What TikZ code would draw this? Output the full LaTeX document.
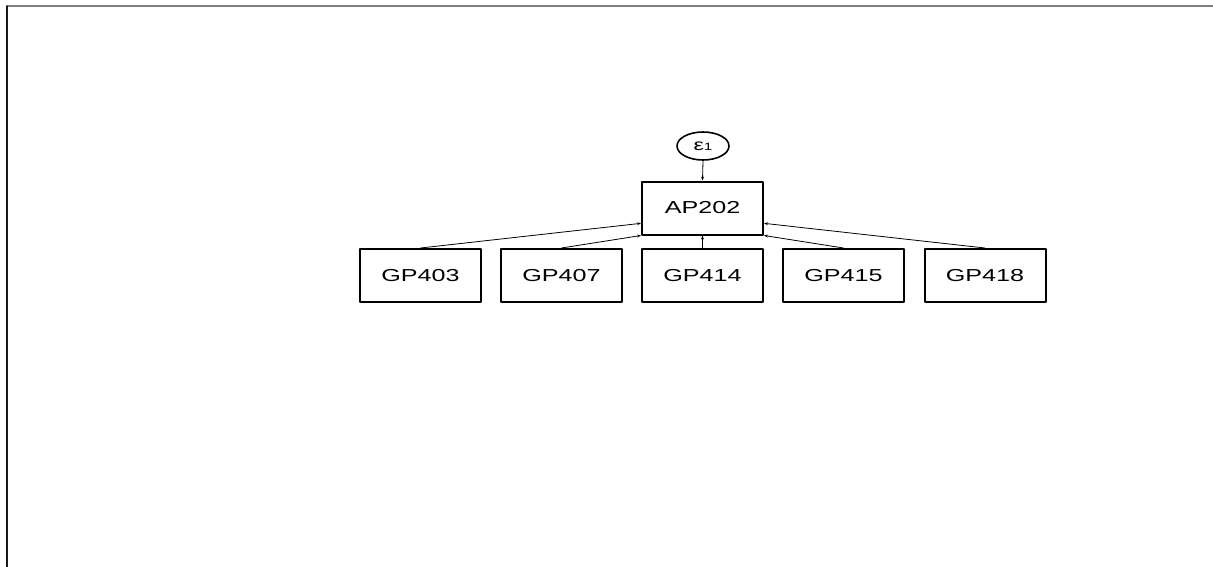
\documentclass[tikz,border=0pt]{standalone}
\usepackage{fontspec}
\setmainfont{Liberation Sans}
\newfontfamily\diagfont[FakeStretch=1.45]{Liberation Sans}
\usetikzlibrary{arrows.meta,shapes.geometric}

\tikzset{
  varbox/.style={draw=black,line width=1.5pt,rectangle,minimum width=121*0.75pt,minimum height=53*0.75pt,inner sep=0pt,
    font=\diagfont\fontsize{13}{15}\selectfont},
  errnode/.style={draw=black,line width=1.2pt,ellipse,minimum width=52*0.75pt,minimum height=28*0.75pt,inner sep=0pt,
    font=\diagfont\fontsize{12}{14}\selectfont},
  path/.style={line width=0.6pt,-{Stealth[length=3pt,width=2.2pt]}}
}

\begin{document}
\begin{tikzpicture}[line cap=round,line join=round,x=0.75pt,y=-0.75pt]
\useasboundingbox (0,0) rectangle (1213,567);

% frame
\draw[gray,line width=1pt] (7,6)--(1213,6);
\draw[black!90,line width=1pt] (7,6)--(7,567);

% outcome and its error
\node[varbox] (ap202) at (702.5,208) {AP202};
\node[errnode] (e1) at (703,146) {ε{\fontsize{8}{9}\selectfont 1}};

% predictors
\node[varbox] (gp403) at (420.5,275.5) {GP403};
\node[varbox] (gp407) at (561.5,275.5) {GP407};
\node[varbox] (gp414) at (702.5,275.5) {GP414};
\node[varbox] (gp415) at (843.5,275.5) {GP415};
\node[varbox] (gp418) at (985,275.5) {GP418};

\draw[path] (e1.south)--(ap202.north);
\draw[path] (gp403.north)--(ap202.194);
\draw[path] (gp407.north)--(ap202.south west);
\draw[path] (gp414.north)--(ap202.south);
\draw[path] (gp415.north)--(ap202.south east);
\draw[path] (gp418.north)--(ap202.-14);
\end{tikzpicture}
\end{document}
